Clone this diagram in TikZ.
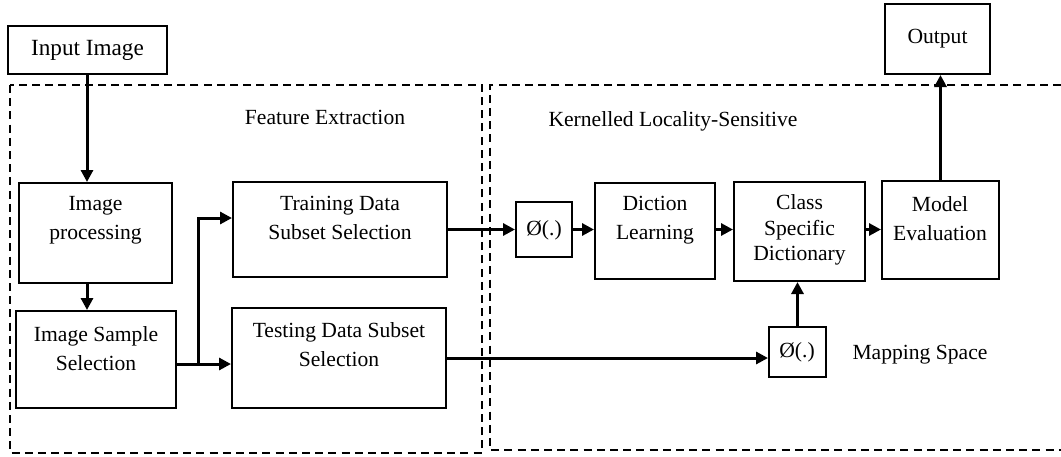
\documentclass[tikz,border=0pt]{standalone}
\usepackage{fontspec}
\setmainfont{Liberation Serif}
\usetikzlibrary{arrows.meta}

% lay a framed box by its corner coordinates
\newcommand{\boxcorners}[5]{%
  \node[blk, minimum width={(#4-#2)*0.5pt}, minimum height={(#5-#3)*0.5pt}]
    (#1) at ({(#2+#4)/2},{(#3+#5)/2}) {};}

\begin{document}
\begin{tikzpicture}[x=0.5pt, y=-0.5pt,
  blk/.style={draw, line width=1pt, inner sep=0pt},
  txt/.style={align=center, inner sep=0pt, font=\fontsize{10.8}{14.5}\selectfont},
  region/.style={draw, line width=1pt, dash pattern=on 4pt off 2.6pt},
  flow/.style={line width=1.5pt, -{Triangle[length=6pt, width=6pt]}}]
\useasboundingbox (0,0) rectangle (1061,456);

% dashed regions (the right one runs off the page edge)
\draw[region] (10,85) rectangle (482,453);
\draw[region] (1061,85) -- (490,85) -- (490,450) -- (1061,450);
\node[txt] (lblfe) at (325,117) {Feature Extraction};
\node[txt] (lblkl) at (673,121) {Kernelled Locality-Sensitive};
\node[txt] (lblms) at (920,355) {Mapping Space};

% boxes
\boxcorners{inp}{8}{26}{167}{74}
\boxcorners{proc}{19}{183}{172}{283}
\boxcorners{samp}{16}{311}{176}{408}
\boxcorners{train}{233}{182}{447}{277}
\boxcorners{test}{232}{308}{446}{408}
\boxcorners{phia}{516}{202}{572}{257}
\boxcorners{dict}{595}{183}{715}{279}
\boxcorners{cls}{734}{182}{865}{281}
\boxcorners{model}{882}{181}{999}{279}
\boxcorners{out}{885}{4}{990}{74}
\boxcorners{phib}{769}{327}{826}{377}

% box texts
\node[txt, font=\fontsize{11.6}{14}\selectfont] (tinp) at (87.5,50) {Input Image};
\node[txt] (tproc) at (95.5,220) {Image\\processing};
\node[txt] (tsamp) at (96,349) {Image Sample\\Selection};
\node[txt] (ttrain) at (340,218) {Training Data\\Subset Selection};
\node[txt] (ttest) at (339,345) {Testing Data Subset\\Selection};
\node[txt] (tphia) at (544,230) {Ø(.)};
\node[txt] (tdict) at (655,220) {Diction\\Learning};
\node[txt, font=\fontsize{10.8}{12.8}\selectfont] (tcls) at (799.5,230) {Class\\Specific\\Dictionary};
\node[txt] (tmodel) at (940,219) {Model\\Evaluation};
\node[txt] (tout) at (937.5,39) {Output};
\node[txt] (tphib) at (797,352) {Ø(.)};

% connectors
\coordinate (colx) at (87,0);
\draw[flow] (inp.south -| colx) -- (proc.north -| colx);
\draw[flow] (proc.south -| colx) -- (samp.north -| colx);
\coordinate (split) at (198,364);
\coordinate (upper) at (198,218);
\coordinate (testrow) at (0,358);
\draw[flow] (samp.east |- split) -- (test.west |- split);
\draw[flow] (split) -- (upper) -- (train.west |- upper);
\draw[flow] (train.east) -- (phia.west);
\draw[flow] (phia.east) -- (phia.east -| dict.west);
\draw[flow] (dict.east |- phia.east) -- (phia.east -| cls.west);
\draw[flow] (cls.east |- phia.east) -- (phia.east -| model.west);
\draw[flow] (test.east |- testrow) -- (phib.west |- testrow);
\draw[flow] (phib.north) -- (phib.north |- cls.south);
\draw[flow] (model.north) -- (model.north |- out.south);
\end{tikzpicture}
\end{document}
